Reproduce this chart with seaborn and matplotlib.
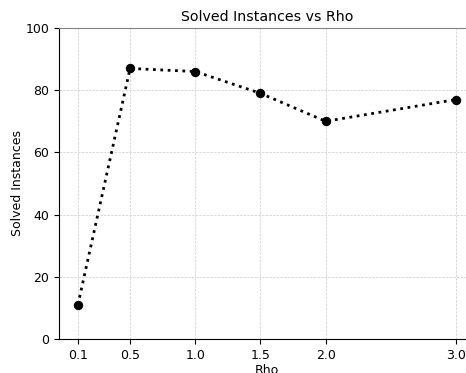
import matplotlib
matplotlib.use("Agg")
import matplotlib.pyplot as plt
import seaborn as sns
import pandas as pd

rho = [0.1, 0.5, 1.0, 1.5, 2.0, 3.0]
solved = [11, 87, 86, 79, 70, 77]

df = pd.DataFrame({"Rho": rho, "Solved Instances": solved})

fig = plt.figure(figsize=(4.66, 3.73), dpi=100)
ax = fig.add_axes([59 / 466, 34 / 373, 416 / 466, 311 / 373])

sns.lineplot(data=df, x="Rho", y="Solved Instances", ax=ax, color="black",
             linestyle=":", linewidth=2, marker="o", markersize=6,
             markeredgecolor="black")

ax.set_xticks(rho)
ax.set_xticklabels([f"{v:.1f}" for v in rho], fontsize=9)
ax.set_yticks(range(0, 101, 20))
ax.set_yticklabels([str(v) for v in range(0, 101, 20)], fontsize=9)
ax.set_xlim(-0.045, 3.145)
ax.set_ylim(0, 100)
ax.set_xlabel("Rho", fontsize=9, labelpad=2)
ax.set_ylabel("Solved Instances", fontsize=9, labelpad=1)
ax.set_title("Solved Instances vs Rho", fontsize=10.2, pad=5)
ax.grid(True, linestyle="--", linewidth=0.5, color="#cccccc")
ax.spines["right"].set_visible(False)
ax.spines["top"].set_color("gray")

fig.savefig("out.png", dpi=100)
